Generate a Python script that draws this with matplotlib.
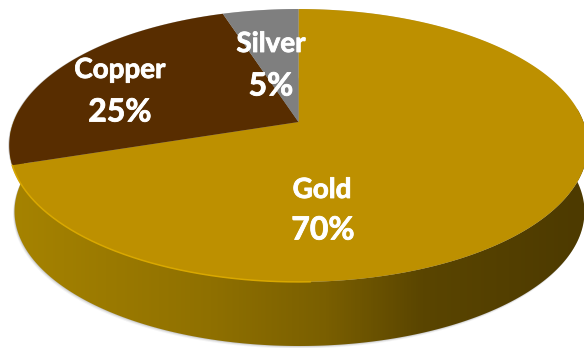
import numpy as np
import matplotlib
matplotlib.use("Agg")
import matplotlib.pyplot as plt
import matplotlib.patheffects as pe
from matplotlib.colors import LinearSegmentedColormap
from matplotlib.patches import Polygon

# Metal shares, clockwise from twelve o'clock
metals = ["Gold", "Copper", "Silver"]
shares = [70, 25, 5]
colors = ["#bd9000", "#582d00", "#7f7f7f"]

# Shading stops along the side wall of the disc
side_stops = [(0.0, "#a68300"), (0.35, "#8f7000"), (0.55, "#7a5f00"),
              (0.72, "#5a4500"), (1.0, "#4d3a00")]

plt.rcParams["font.family"] = ["Lato", "DejaVu Sans"]

fig = plt.figure(figsize=(5.84, 3.48), dpi=100)
ax = fig.add_axes([0, 0, 1, 1])
ax.set_xlim(0, 584)
ax.set_ylim(348, 0)
ax.axis("off")

LOW_CX = 299.5
LOW_CY = 188.5
LOW_SCALE = 0.985


# Project a point of the unit disc into the tilted view
def project(theta, cx=298.5, cy=122.0, scale=1.0):
    px = np.sin(theta)
    py = np.cos(theta)
    w = 1 + 0.172 * py
    return cx + scale * 285.0 * px / w, cy - scale * 132.4 * py / w


theta = np.linspace(0, 2 * np.pi, 721)
top_x, top_y = project(theta)
low_x, low_y = project(theta, cx=LOW_CX, cy=LOW_CY, scale=LOW_SCALE)

# Soft shadow under the disc and a thin dark edge behind its left side
for i, alpha in enumerate([0.06, 0.10, 0.16]):
    ax.fill(low_x - 1.5 + 0.5 * i, low_y + 2.5 - i, color="#404040", alpha=alpha, lw=0, zorder=1)
ax.fill(top_x - 0.8, top_y, color="#606060", alpha=0.35, lw=0, zorder=1)

# Side wall: hull of the two rims, filled by a horizontal gradient
front = np.linspace(np.pi / 2 - 0.1, 3 * np.pi / 2 + 0.1, 360)
up_x, up_y = project(front)
dn_x, dn_y = project(front[::-1], cx=LOW_CX, cy=LOW_CY, scale=LOW_SCALE)
wall = Polygon(np.column_stack([np.r_[up_x, dn_x], np.r_[up_y, dn_y]]),
               closed=True, fc="none", ec="none")
ax.add_patch(wall)
side_cmap = LinearSegmentedColormap.from_list("side", side_stops)
grad = ax.imshow(np.linspace(0, 1, 584).reshape(1, -1), cmap=side_cmap, aspect="auto",
                 extent=[10, 584, 348, 100], zorder=2)
grad.set_clip_path(wall)
ax.set_xlim(0, 584)
ax.set_ylim(348, 0)

# Top face wedges
edges = np.cumsum([0] + shares) / sum(shares) * 2 * np.pi
for name, start, stop, color in zip(metals, edges[:-1], edges[1:], colors):
    t = np.linspace(start, stop, 300)
    x, y = project(t)
    ax.fill(np.r_[298.5, x], np.r_[122, y], color=color, lw=0, zorder=3)

# Lit rim along the lower left of the gold wedge
rim = np.linspace(np.radians(178), edges[1], 200)
rim_x, rim_y = project(rim)
ax.plot(rim_x, rim_y, color="#d9a800", lw=1.1, zorder=4, solid_capstyle="round")

# Wedge labels, thickened with a stroke since only the regular cut renders
bold = [pe.withStroke(linewidth=0.6, foreground="white")]
label_pos = [(322, 323, 190, 230), (120, 120, 70, 112), (271, 271, 44, 86)]
for name, share, (nx, vx, ny, vy) in zip(metals, shares, label_pos):
    ax.text(nx, ny, name, color="white", fontsize=20, fontweight="bold",
            ha="center", va="center", zorder=5, path_effects=bold)
    ax.text(vx, vy, f"{share}%", color="white", fontsize=23, fontweight="bold",
            ha="center", va="center", zorder=5, path_effects=bold)

fig.savefig("out.png", dpi=100)
